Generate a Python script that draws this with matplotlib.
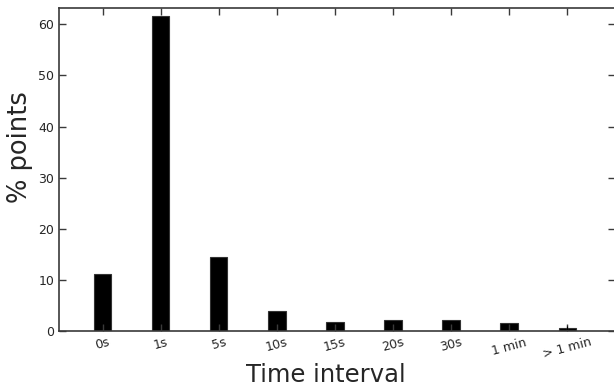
import matplotlib
matplotlib.use('Agg')
import matplotlib.pyplot as plt
import numpy as np

categories = ['0s', '1s', '5s', '10s', '15s', '20s', '30s', '1 min', '> 1 min']
pct_points = [11.1, 61.6, 14.4, 3.9, 1.8, 2.2, 2.1, 1.6, 0.5]
pct_err = [0.0, 0.0, 0.0, 0.0, 0.0, 0.0, 0.0, 0.0, 0.4]

text_col = '#262626'
spine_col = '#3a3a3a'

fig = plt.figure(figsize=(6.14, 3.90), dpi=100)
# right spine falls just outside the picture, as in the original crop
ax = fig.add_axes([59 / 614, 59 / 390, 556.5 / 614, 323 / 390])

x = np.arange(len(categories))
ax.bar(x, pct_points, width=0.3, color='black', edgecolor='#333333',
       linewidth=0.8, yerr=pct_err, ecolor='black',
       error_kw=dict(elinewidth=0.8, capsize=0))

ax.set_xlim(-0.75, 8.83)
ax.set_ylim(0, 63.2)
ax.set_yticks(np.arange(0, 61, 10))
ax.set_xticks(x)
ax.set_xticklabels(categories, rotation=15, fontsize=9, color=text_col)
ax.tick_params(axis='y', labelsize=9, labelcolor=text_col)
ax.tick_params(direction='in', length=5, width=1, color=spine_col,
               top=True, right=True)

for s in ax.spines.values():
    s.set_color(spine_col)
    s.set_linewidth(1.2)

ax.set_xlabel('Time interval', fontsize=17.5, color=text_col)
ax.set_ylabel('% points', fontsize=18.5, color=text_col)
# labels sit off-centre in the original
ax.xaxis.set_label_coords(0.48, -0.1)
ax.yaxis.set_label_coords(-0.047, 0.571)

fig.savefig('out.png', dpi=100)
